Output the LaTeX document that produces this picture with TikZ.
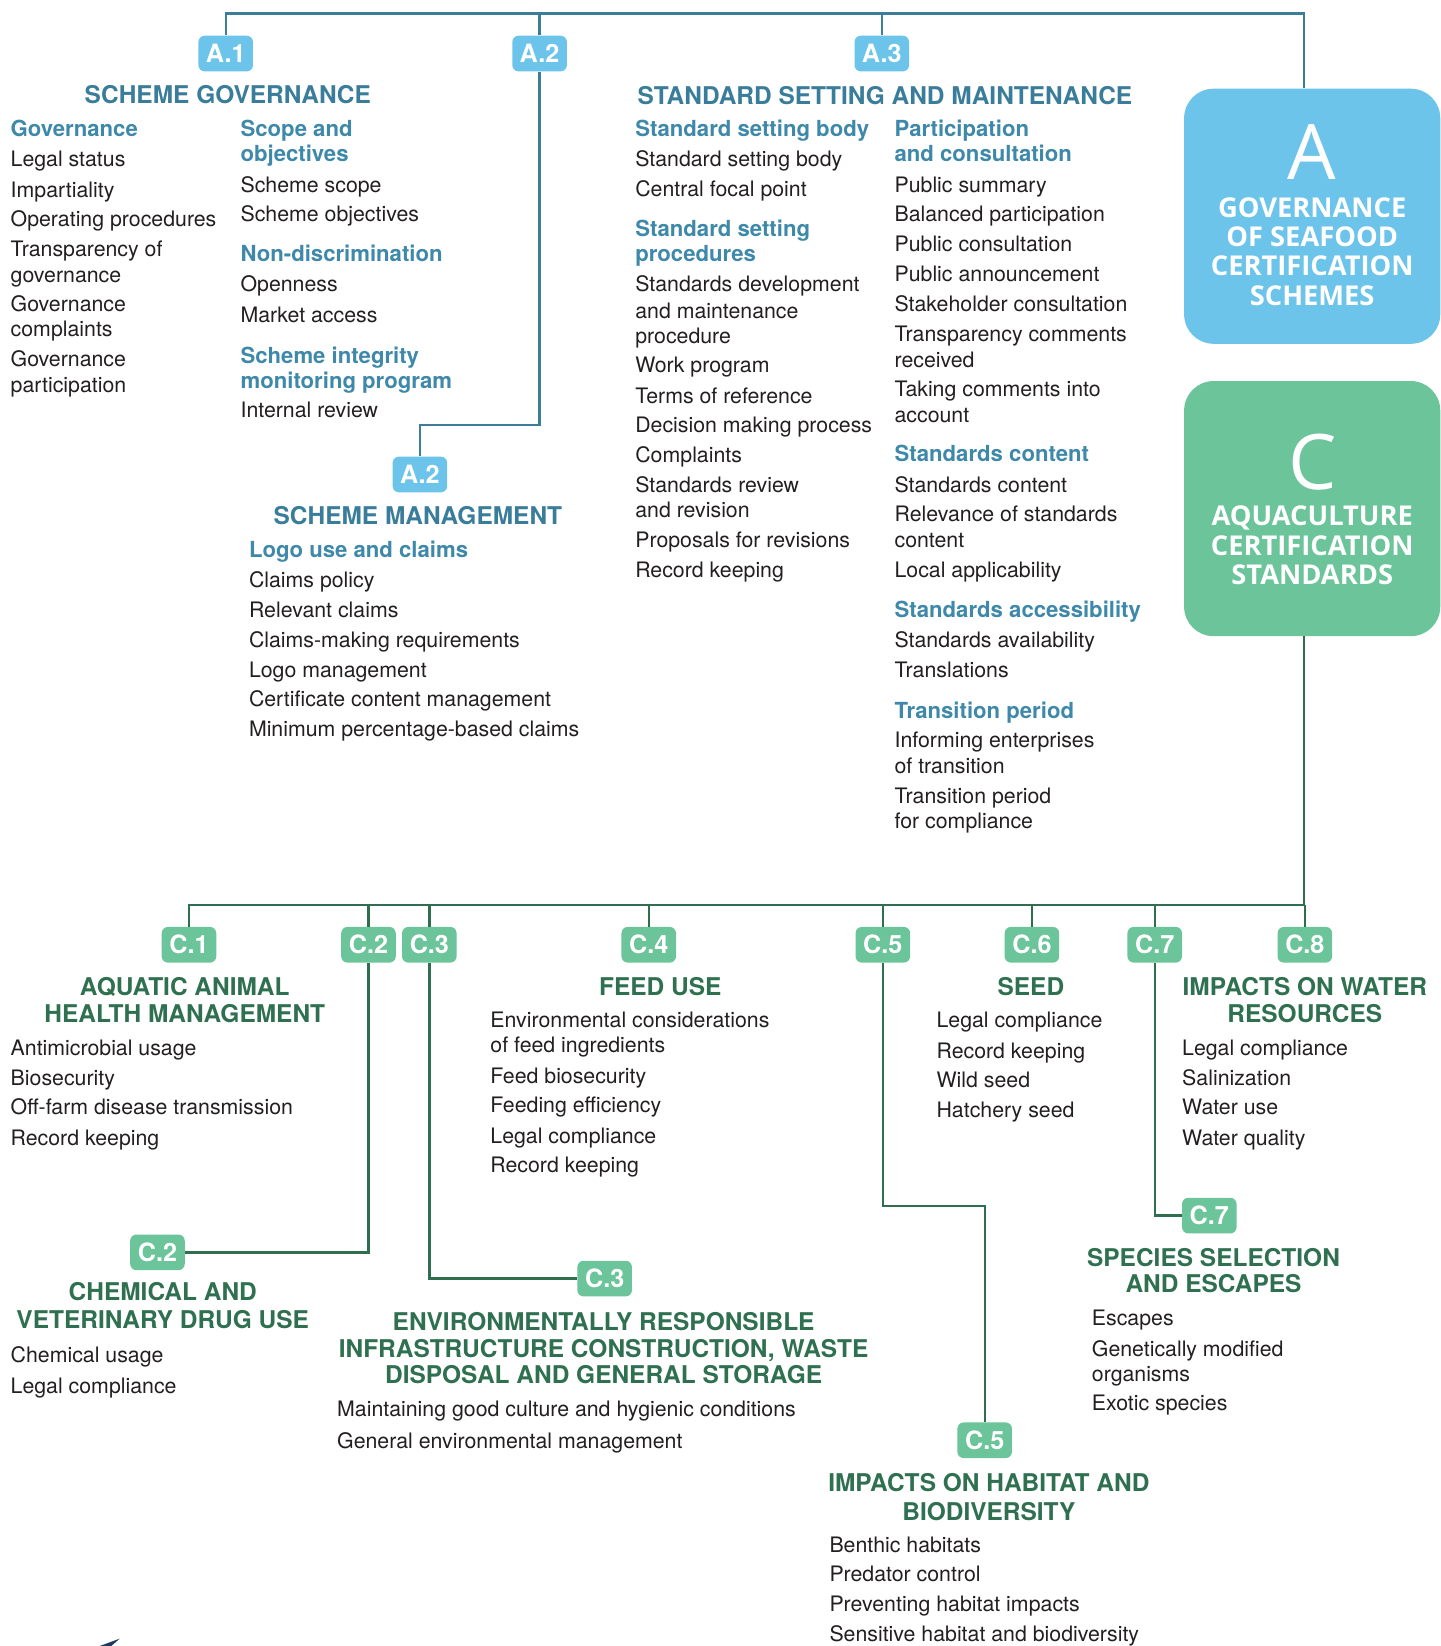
\documentclass[tikz,border=0pt]{standalone}
\usepackage{fontspec}
\setmainfont{TeX Gyre Heros}
\newfontfamily\boxfont{Open Sans}
\definecolor{lineblue}{HTML}{3C7D98}
\definecolor{headblue}{HTML}{3A7D9A}
\definecolor{subblue}{HTML}{3E88A9}
\definecolor{lightblue}{HTML}{6CC4EA}
\definecolor{linegreen}{HTML}{2F6E4F}
\definecolor{headgreen}{HTML}{2F7050}
\definecolor{lightgreen}{HTML}{6CC49A}
\definecolor{bodytext}{HTML}{231F20}
\definecolor{navy}{HTML}{1E3A60}
\tikzset{
 body/.style={anchor=base west, yshift=-7pt, inner sep=0pt, text=bodytext, font=\fontsize{20.3}{21}\selectfont},
 subhb/.style={anchor=base west, yshift=-7pt, inner sep=0pt, text=subblue, font=\fontsize{21.1}{21}\selectfont\bfseries},
 headb/.style={anchor=base, yshift=-8pt, inner sep=0pt, text=headblue, font=\fontsize{23.3}{23}\selectfont\bfseries},
 headg/.style={headb, text=headgreen},
 badgeb/.style={fill=lightblue, rounded corners=6pt, minimum width=52pt, minimum height=34pt, inner sep=0pt, text=white, font=\fontsize{24}{24}\selectfont\bfseries},
 badgeg/.style={badgeb, fill=lightgreen},
 bline/.style={draw=lineblue, line width=2.2pt},
 gline/.style={draw=linegreen, line width=2.2pt},
 bigbox/.style={rounded corners=28pt, minimum width=244pt, minimum height=243pt, inner sep=0pt},
 boxtxt/.style={anchor=base, yshift=-9pt, inner sep=0pt, text=white, font=\boxfont\fontsize{26}{26}\selectfont\bfseries},
 boxletter/.style={anchor=base, yshift=-26pt, inner sep=0pt, text=white, font=\boxfont\fontsize{73}{73}\selectfont},
}
\begin{document}
\begin{tikzpicture}[x=1pt,y=-1pt]
\useasboundingbox (0,0) rectangle (1372,1568);

% ---- big boxes ----
\node[bigbox, fill=lightblue] (boxA) at (1250,206) {};
\node[bigbox, fill=lightgreen] (boxC) at (1250,484.5) {};
\node[boxletter] (bAl) at (1250,145) {A};
\node[boxtxt] (bA1) at (1250,198) {GOVERNANCE};
\node[boxtxt] (bA2) at (1250,226) {OF SEAFOOD};
\node[boxtxt] (bA3) at (1250,253) {CERTIFICATION};
\node[boxtxt] (bA4) at (1250,282) {SCHEMES};
\node[boxletter] (bCl) at (1250,440) {C};
\node[boxtxt] (bC1) at (1250,492) {AQUACULTURE};
\node[boxtxt] (bC2) at (1250,520) {CERTIFICATION};
\node[boxtxt] (bC3) at (1250,548) {STANDARDS};

% ---- badges ----
\node[badgeb] (A1) at (215,51) {A.1};
\node[badgeb] (A2t) at (514,51) {A.2};
\node[badgeb] (A3) at (840,51) {A.3};
\node[badgeb] (A2l) at (400,452) {A.2};
\node[badgeg] (C1) at (180,900) {C.1};
\node[badgeg] (C2) at (351,900) {C.2};
\node[badgeg] (C3) at (409,900) {C.3};
\node[badgeg] (C4) at (618,900) {C.4};
\node[badgeg] (C5) at (841,900) {C.5};
\node[badgeg] (C6) at (983,900) {C.6};
\node[badgeg] (C7) at (1100,900) {C.7};
\node[badgeg] (C8) at (1243,900) {C.8};
\node[badgeg] (C2b) at (150,1193) {C.2};
\node[badgeg] (C3b) at (576,1218) {C.3};
\node[badgeg] (C5b) at (938,1372) {C.5};
\node[badgeg] (C7b) at (1152,1158) {C.7};

% ---- connectors ----
\coordinate (topR) at (1242,13);
\coordinate (a2k) at (460,405);
\draw[bline] (A1.north) |- (topR) -- (topR |- boxA.north);
\draw[bline] (A2t.north) -- (A2t.north |- topR);
\draw[bline] (A3.north) -- (A3.north |- topR);
\draw[bline] (A2t.south) |- (a2k) -| (A2l.north);

\coordinate (cbus) at (1242,862);
\coordinate (c5k) at (890,1149);
\draw[gline] (boxC.south -| cbus) -- (cbus) -- (cbus -| C1.north) -- (C1.north);
\foreach \n in {C2,C3,C4,C5,C6,C7,C8} \draw[gline] (\n.north) -- (\n.north |- cbus);
\draw[gline] (C2.south) |- (C2b.east);
\draw[gline] (C3.south) |- (C3b.west);
\draw[gline] (C5.south) |- (c5k) -| (C5b.north);
\draw[gline] (C7.south) |- (C7b.west);

% ---- headings ----
\node[headb] (hA1) at (217,91) {SCHEME GOVERNANCE};
\node[headb] (hA2) at (398,492) {SCHEME MANAGEMENT};
\node[headb] (hA3) at (843,92) {STANDARD SETTING AND MAINTENANCE};
\node[headg] (hC1a) at (176,940) {AQUATIC ANIMAL};
\node[headg] (hC1b) at (176,966) {HEALTH MANAGEMENT};
\node[headg] (hC4) at (629,940) {FEED USE};
\node[headg] (hC6) at (982,940) {SEED};
\node[headg] (hC8a) at (1243,940) {IMPACTS ON WATER};
\node[headg] (hC8b) at (1243,966) {RESOURCES};
\node[headg] (hC2a) at (155,1231) {CHEMICAL AND};
\node[headg] (hC2b) at (155,1258) {VETERINARY DRUG USE};
\node[headg] (hC3a) at (575,1259) {ENVIRONMENTALLY RESPONSIBLE};
\node[headg] (hC3b) at (575,1285) {INFRASTRUCTURE CONSTRUCTION, WASTE};
\node[headg] (hC3c) at (575,1310) {DISPOSAL AND GENERAL STORAGE};
\node[headg] (hC7a) at (1156,1198) {SPECIES SELECTION};
\node[headg] (hC7b) at (1156,1223) {AND ESCAPES};
\node[headg] (hC5a) at (942,1413) {IMPACTS ON HABITAT AND};
\node[headg] (hC5b) at (942,1440) {BIODIVERSITY};

% ---- sub-headings ----
\foreach \yy/\txt [count=\i] in {123/Governance} \node[subhb] (sa\i) at (10,\yy) {\txt};
\foreach \yy/\txt [count=\i] in {123/Scope and, 147/objectives, 242/Non-discrimination, 339/Scheme integrity, 363/monitoring program} \node[subhb] (sb\i) at (229,\yy) {\txt};
\foreach \yy/\txt [count=\i] in {524/Logo use and claims} \node[subhb] (sc\i) at (237,\yy) {\txt};
\foreach \yy/\txt [count=\i] in {123/Standard setting body, 218/Standard setting, 242/procedures} \node[subhb] (sd\i) at (605,\yy) {\txt};
\foreach \yy/\txt [count=\i] in {123/Participation, 147/and consultation, 433/Standards content, 581/Standards accessibility, 677/Transition period} \node[subhb] (se\i) at (852,\yy) {\txt};

% ---- items ----
\foreach \yy/\txt [count=\i] in {152/Legal status, 181/Impartiality, 209/Operating procedures, 237/Transparency of, 262/governance, 290/Governance, 314/complaints, 342/Governance, 367/participation} \node[body] (ia\i) at (10,\yy) {\txt};
\foreach \yy/\txt [count=\i] in {176/Scheme scope, 204/Scheme objectives, 271/Openness, 300/Market access, 391/Internal review} \node[body] (ib\i) at (229,\yy) {\txt};
\foreach \yy/\txt [count=\i] in {553/Claims policy, 581/Relevant claims, 610/Claims-making requirements, 638/Logo management, 666/Certificate content management, 695/Minimum percentage-based claims} \node[body] (ic\i) at (237,\yy) {\txt};
\foreach \yy/\txt [count=\i] in {152/Standard setting body, 180/Central focal point, 271/Standards development, 296/and maintenance, 320/procedure, 348/Work program, 377/Terms of reference, 405/Decision making process, 434/Complaints, 462/Standards review, 486/and revision, 515/Proposals for revisions, 543/Record keeping} \node[body] (id\i) at (605,\yy) {\txt};
\foreach \yy/\txt [count=\i] in {176/Public summary, 204/Balanced participation, 233/Public consultation, 261/Public announcement, 290/Stakeholder consultation, 318/Transparency comments, 343/received, 371/Taking comments into, 395/account, 462/Standards content, 490/Relevance of standards, 515/content, 543/Local applicability, 610/Standards availability, 638/Translations, 705/Informing enterprises, 730/of transition, 758/Transition period, 782/for compliance} \node[body] (ie\i) at (852,\yy) {\txt};

\foreach \yy/\txt [count=\i] in {998/Antimicrobial usage, 1027/Biosecurity, 1055/Off-farm disease transmission, 1084/Record keeping} \node[body] (if\i) at (10,\yy) {\txt};
\foreach \yy/\txt [count=\i] in {972/Environmental considerations, 996/of feed ingredients, 1025/Feed biosecurity, 1053/Feeding efficiency, 1082/Legal compliance, 1110/Record keeping} \node[body] (ig\i) at (467,\yy) {\txt};
\foreach \yy/\txt [count=\i] in {972/Legal compliance, 1001/Record keeping, 1029/Wild seed, 1058/Hatchery seed} \node[body] (ih\i) at (892,\yy) {\txt};
\foreach \yy/\txt [count=\i] in {998/Legal compliance, 1027/Salinization, 1055/Water use, 1084/Water quality} \node[body] (ii\i) at (1126,\yy) {\txt};
\foreach \yy/\txt [count=\i] in {1291/Chemical usage, 1320/Legal compliance} \node[body] (ij\i) at (10,\yy) {\txt};
\foreach \yy/\txt [count=\i] in {1342/Maintaining good culture and hygienic conditions, 1373/General environmental management} \node[body] (ik\i) at (321,\yy) {\txt};
\foreach \yy/\txt [count=\i] in {1256/Escapes, 1285/Genetically modified, 1309/organisms, 1337/Exotic species} \node[body] (il\i) at (1040,\yy) {\txt};
\foreach \yy/\txt [count=\i] in {1472/Benthic habitats, 1500/Predator control, 1528/Preventing habitat impacts, 1557/Sensitive habitat and biodiversity} \node[body] (im\i) at (790,\yy) {\txt};

% ---- logo fragment ----
\fill[navy] (95,1568) -- (114,1561) -- (106,1568) -- cycle;
\end{tikzpicture}
\end{document}
